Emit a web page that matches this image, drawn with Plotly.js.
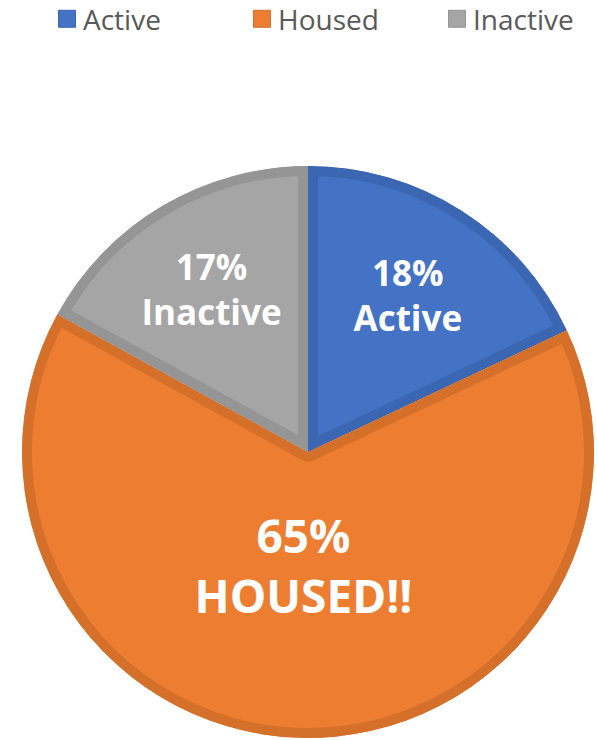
<!DOCTYPE html>
<html>
<head>
<meta charset="utf-8">
<script src="https://cdn.plot.ly/plotly-3.0.1.min.js"></script>
<style>html,body{margin:0;padding:0;background:#fff;}#chart{width:597px;height:740px;}</style>
</head>
<body>
<div id="chart"></div>
<script>
const categories = ["Active", "Housed", "Inactive"];
const sliceLabels = ["Active", "HOUSED!!", "Inactive"];
const values = [18, 65, 17];
const fillColors = ["#4472C4", "#ED7D31", "#A5A5A5"];
const borderColors = ["#3B66B2", "#D5702B", "#959595"];
const labelSizes = [35, 46, 35];
const labelTemplates = ["%{percent:.0%}<br>%{text}", "%{percent:.0%}<br>%{text}<br>\u00a0", "%{percent:.0%}<br>%{text}"];

const data = [{
  type: "pie",
  labels: categories,
  values: values,
  text: sliceLabels,
  texttemplate: labelTemplates,
  textinfo: "text",
  textposition: "inside",
  insidetextorientation: "horizontal",
  textfont: {family: "Open Sans", size: labelSizes, color: "#FFFFFF", weight: 700},
  sort: false,
  direction: "clockwise",
  rotation: 0,
  marker: {colors: fillColors, line: {color: borderColors, width: 20}},
  domain: {x: [22/597, 594/597], y: [2/740, 574/740]},
  hoverinfo: "none"
}];

const layout = {
  width: 597, height: 740,
  margin: {l: 0, r: 0, t: 0, b: 0, autoexpand: false},
  paper_bgcolor: "#FFFFFF",
  showlegend: true,
  legend: {
    orientation: "h", x: 43/597, xanchor: "left", y: 1.008, yanchor: "top",
    font: {family: "Open Sans", size: 28, color: "#595959"},
    entrywidth: 150, traceorder: "normal", bgcolor: "rgba(0,0,0,0)"
  }
};

Plotly.newPlot("chart", data, layout, {staticPlot: true}).then(function(gd) {
  const ns = "http://www.w3.org/2000/svg";
  const svg = gd.querySelector("svg.main-svg");
  let defs = svg.querySelector("defs");
  if (!defs) { defs = document.createElementNS(ns, "defs"); svg.insertBefore(defs, svg.firstChild); }
  gd.querySelectorAll("g.slice path.surface").forEach(function(p, i) {
    const cp = document.createElementNS(ns, "clipPath");
    cp.setAttribute("id", "sliceclip" + i);
    const cpath = document.createElementNS(ns, "path");
    cpath.setAttribute("d", p.getAttribute("d"));
    cp.appendChild(cpath);
    defs.appendChild(cp);
    p.setAttribute("clip-path", "url(#sliceclip" + i + ")");
  });
  gd.querySelectorAll("path.legendpie").forEach(function(p) {
    p.setAttribute("d", "M8.5,8.5H-8.5V-8.5H8.5Z");
    p.setAttribute("transform", "translate(24,0)");
    p.style.strokeWidth = "1px";
  });
});
</script>
</body>
</html>
